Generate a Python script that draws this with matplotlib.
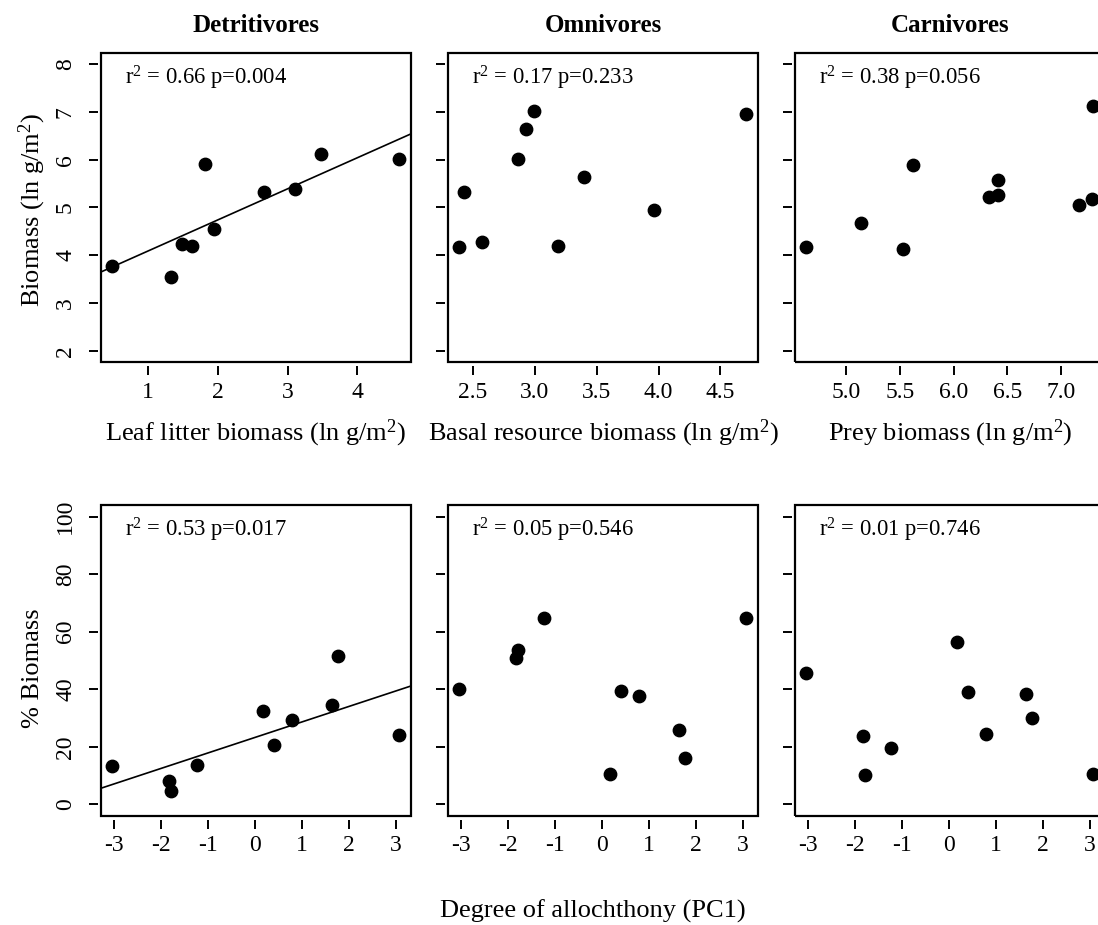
import numpy as np
import matplotlib
matplotlib.use('Agg')
from matplotlib import pyplot as plt
from matplotlib.patches import Rectangle

plt.rcParams['font.family'] = ['Liberation Serif', 'DejaVu Serif']
plt.rcParams['mathtext.fontset'] = 'custom'
plt.rcParams['mathtext.rm'] = 'Liberation Serif'
plt.rcParams['mathtext.default'] = 'regular'
plt.rcParams['axes.unicode_minus'] = False

# top row: biomass vs resource biomass (ln g/m2)
det_litter = [0.49, 1.33, 1.49, 1.63, 1.82, 1.94, 2.66, 3.10, 3.48, 4.60]
det_biomass = [3.77, 3.55, 4.23, 4.20, 5.92, 4.55, 5.33, 5.39, 6.11, 6.01]
omn_basal = [2.39, 2.43, 2.57, 2.86, 2.93, 2.99, 3.19, 3.40, 3.96, 4.71]
omn_biomass = [4.18, 5.32, 4.28, 6.01, 6.64, 7.01, 4.20, 5.63, 4.95, 6.96]
car_prey = [4.63, 5.14, 5.53, 5.62, 6.33, 6.41, 6.41, 7.17, 7.29, 7.30]
car_biomass = [4.18, 4.67, 4.13, 5.88, 5.22, 5.26, 5.57, 5.05, 5.17, 7.13]

# bottom row: % biomass vs degree of allochthony
pc1 = [-3.03, -1.82, -1.78, -1.22, 0.17, 0.41, 0.80, 1.64, 1.78, 3.08]
det_pct = [13.3, 8.3, 4.6, 13.6, 32.4, 20.8, 29.5, 34.6, 51.6, 24.0]
omn_pct = [40.2, 50.9, 53.5, 64.7, 10.5, 39.5, 37.5, 25.9, 16.1, 64.7]
car_pct = [45.7, 23.9, 10.4, 19.6, 56.5, 38.9, 24.4, 38.5, 30.2, 10.5]

titles = ['Detritivores', 'Omnivores', 'Carnivores']
top_xlabels = ['Leaf litter biomass (ln g/m$^2$)',
               'Basal resource biomass (ln g/m$^2$)',
               'Prey biomass (ln g/m$^2$)']
top_stats = ['r$^2$ = 0.66 p=0.004', 'r$^2$ = 0.17 p=0.233', 'r$^2$ = 0.38 p=0.056']
bot_stats = ['r$^2$ = 0.53 p=0.017', 'r$^2$ = 0.05 p=0.546', 'r$^2$ = 0.01 p=0.746']
top_xticks = [[1, 2, 3, 4],
              [2.5, 3.0, 3.5, 4.0, 4.5],
              [5.0, 5.5, 6.0, 6.5, 7.0]]
pc1_ticks = [-3, -2, -1, 0, 1, 2, 3]
top_yticks = [2, 3, 4, 5, 6, 7, 8]
bot_yticks = [0, 20, 40, 60, 80, 100]
fit_top = [True, False, False]
fit_bot = [True, False, False]

W, H = 1098, 925
fig = plt.figure(figsize=(W / 100, H / 100), dpi=100)

lefts = [101, 448, 795]
pw = 309.8


def r_range(vals):
    # R style axis range: data range stretched by 4% each side
    lo, hi = min(vals), max(vals)
    d = (hi - lo) * 0.04
    return lo - d, hi + d


def panel(left, top, height, x, y, xticks, ylim, yticks, stat, fit, ylabels):
    ax = fig.add_axes([left / W, 1 - (top + height) / H, pw / W, height / H])
    xlim = r_range(x)
    ax.set_xlim(xlim)
    ax.set_ylim(r_range(ylim))
    for s in ax.spines.values():
        s.set_visible(False)
    ax.spines['left'].set_position(('outward', 2))
    ax.spines['bottom'].set_position(('outward', 3))
    ax.add_patch(Rectangle((0, 0), 1, 1, transform=ax.transAxes, fill=False,
                           lw=1.6, ec='black', clip_on=False, zorder=5))
    ax.set_xticks(xticks)
    if isinstance(xticks[0], float):
        ax.set_xticklabels(['%.1f' % t for t in xticks])
    ax.set_yticks(yticks)
    ax.tick_params(direction='out', length=6.5, width=1.4, labelsize=17,
                   color='black')
    ax.tick_params(axis='x', pad=4.5)
    ax.tick_params(axis='y', pad=9.5, labelrotation=90)
    for lbl in ax.get_yticklabels():
        lbl.set_va('center')
    if not ylabels:
        ax.set_yticklabels([])
    ax.scatter(x, y, s=80, color='black', zorder=3, clip_on=False)
    if fit:
        slope, icpt = np.polyfit(x, y, 1)
        xs = np.array(xlim)
        ax.plot(xs, icpt + slope * xs, color='black', lw=1.2)
    ax.annotate(stat, xy=(0, 1), xycoords='axes fraction', xytext=(24, -32),
                textcoords='offset pixels', va='baseline', ha='left', fontsize=16.3)
    return ax


top_data = [(det_litter, det_biomass), (omn_basal, omn_biomass), (car_prey, car_biomass)]
bot_data = [det_pct, omn_pct, car_pct]

for i in range(3):
    x, y = top_data[i]
    panel(lefts[i], 52.7, 309.6, x, y, top_xticks[i], [2, 8], top_yticks,
          top_stats[i], fit_top[i], i == 0)
    panel(lefts[i], 505, 311, pc1, bot_data[i], pc1_ticks, [0, 100], bot_yticks,
          bot_stats[i], fit_bot[i], i == 0)
    cx = (lefts[i] + pw / 2) / W
    fig.text(cx, 1 - 26 / H, titles[i], ha='center', va='center',
             fontsize=18, fontweight='bold')
    fig.text(cx, 1 - 440 / H, top_xlabels[i], ha='center', va='baseline',
             fontsize=19)

fig.text(32 / W, 1 - 210 / H, 'Biomass (ln g/m$^2$)', rotation=90,
         ha='center', va='center', fontsize=19)
fig.text(33 / W, 1 - 668 / H, '% Biomass', rotation=90,
         ha='center', va='center', fontsize=19)
fig.text(593 / W, 1 - 911 / H, 'Degree of allochthony (PC1)',
         ha='center', va='center', fontsize=19)

fig.savefig('out.png', dpi=100)
